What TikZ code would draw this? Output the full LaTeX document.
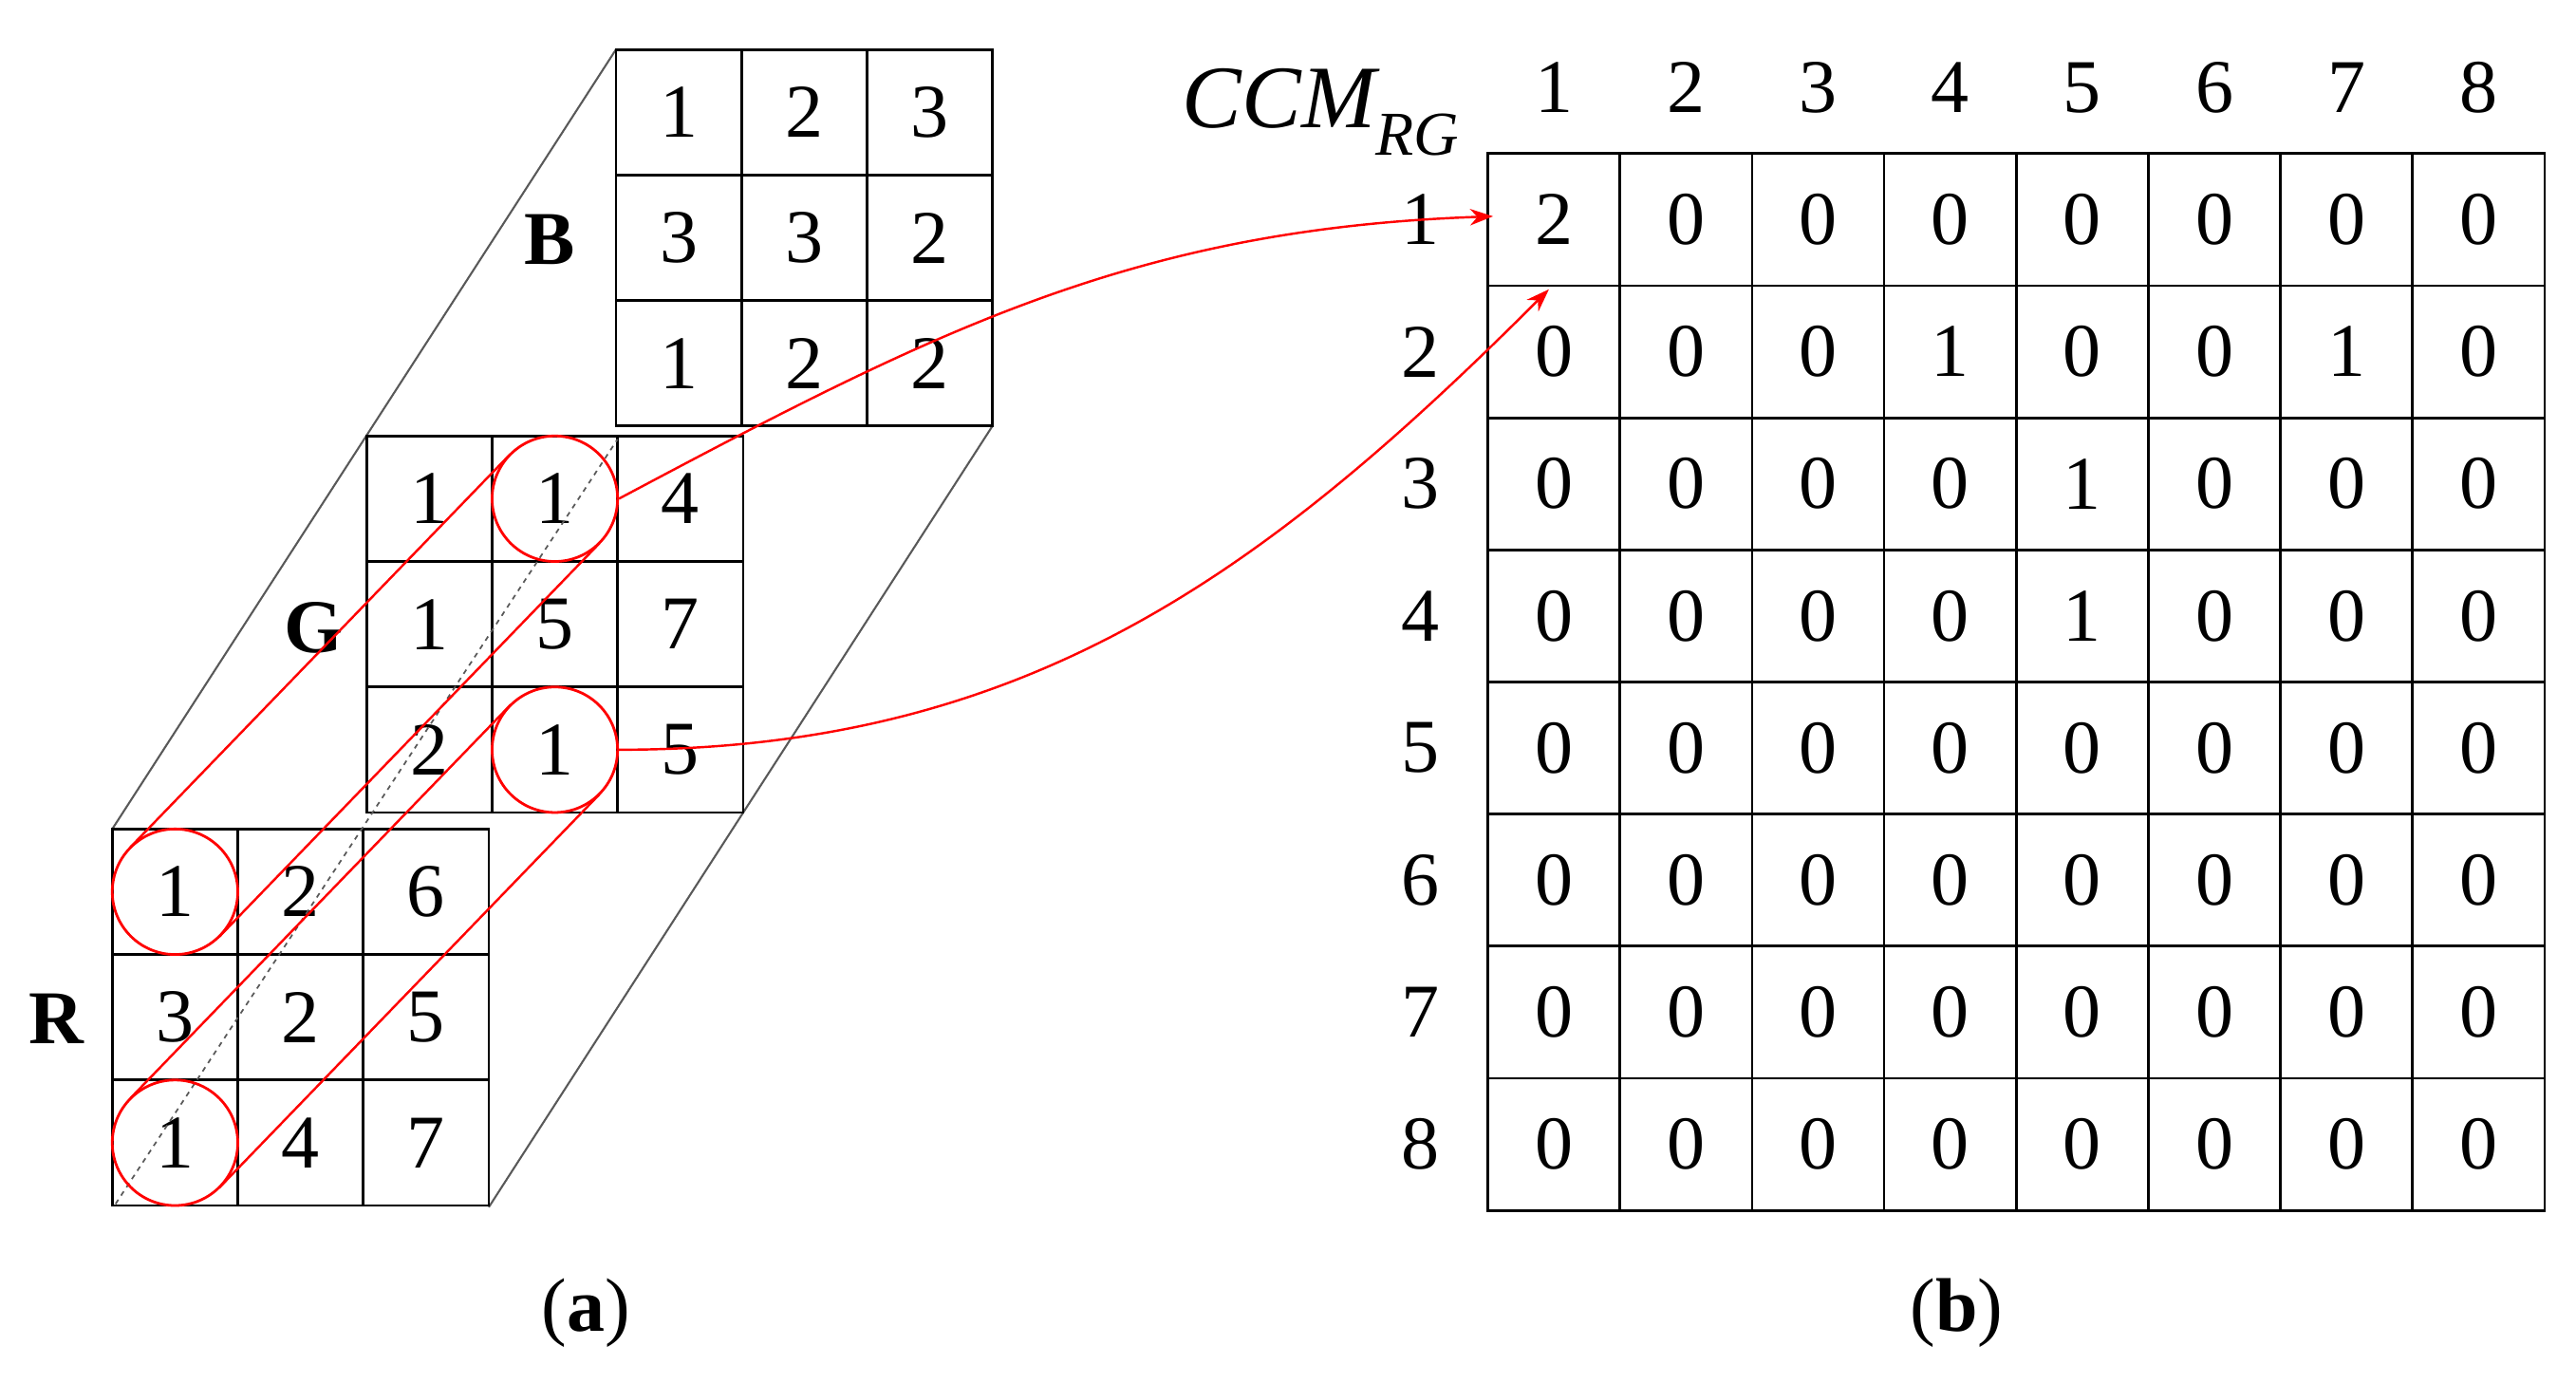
\documentclass[tikz,border=0pt]{standalone}
\usepackage{fontspec}
\setmainfont{Liberation Serif}
\usetikzlibrary{arrows.meta,calc}
\begin{document}
\begin{tikzpicture}[x=1pt,y=-1pt,
  cell/.style={draw,line width=1.6pt,minimum size=76pt,inner sep=0pt,font=\fontsize{46}{50}\selectfont},
  ccell/.style={draw,line width=1.6pt,minimum size=80pt,inner sep=0pt,font=\fontsize{46}{50}\selectfont},
  lab/.style={font=\fontsize{46}{50}\selectfont},
  blab/.style={font=\fontsize{46}{50}\selectfont\bfseries},
  rc/.style={draw=red,line width=1.6pt,circle,minimum size=76pt,inner sep=0pt},
  rl/.style={red,line width=1.4pt},
  gl/.style={gray!70!black,line width=1.2pt}]
\useasboundingbox (0,0) rectangle (1560,837);
% parallelogram edges
\coordinate (p1) at (68,502); \coordinate (p2) at (373,30);
\coordinate (p3) at (296,731); \coordinate (p4) at (601,258);
\draw[gl] (p1) -- (p2);
\draw[gl] (p3) -- (p4);
% grids
\def\grid#1#2#3#4{%
 \foreach \v [count=\k from 0] in {#4} {%
   \pgfmathtruncatemacro\r{int(\k/3)}\pgfmathtruncatemacro\c{mod(\k,3)}%
   \node[cell] (#1-\r-\c) at ({#2+38+76*\c},{#3+38+76*\r}) {\v};}}
\grid{B}{373}{30}{1,2,3,3,3,2,1,2,2}
\grid{G}{222}{264}{1,1,4,1,5,7,2,1,5}
\grid{R}{68}{502}{1,2,6,3,2,5,1,4,7}
\node[blab] (lB) at (333,145) {B};
\node[blab] (lG) at (190,380) {G};
\node[blab] (lR) at (34,617) {R};
% dashed diagonal
\coordinate (d1) at (70,729); \coordinate (d2) at (374,266);
\draw[gl,dashed,line width=1pt] (d1) -- (d2);
% circles
\node[rc] (c1) at (R-0-0) {};
\node[rc] (c2) at (R-2-0) {};
\node[rc] (c3) at (G-0-1) {};
\node[rc] (c4) at (G-2-1) {};
\draw[rl] ($(c1.center)+(-27,-27)$) -- ($(c3.center)+(-27,-27)$);
\draw[rl] ($(c1.center)+(27,27)$) -- ($(c3.center)+(27,27)$);
\draw[rl] ($(c2.center)+(-27,-27)$) -- ($(c4.center)+(-27,-27)$);
\draw[rl] ($(c2.center)+(27,27)$) -- ($(c4.center)+(27,27)$);
% CCM
\foreach \row [count=\i from 1] in {{2,0,0,0,0,0,0,0},{0,0,0,1,0,0,1,0},{0,0,0,0,1,0,0,0},{0,0,0,0,1,0,0,0},{0,0,0,0,0,0,0,0},{0,0,0,0,0,0,0,0},{0,0,0,0,0,0,0,0},{0,0,0,0,0,0,0,0}} {
  \foreach \v [count=\j from 1] in \row {
    \node[ccell] (m-\i-\j) at ({861+80*\j},{53+80*\i}) {\v};}
  \node[lab] (r\i) at (860,{53+80*\i}) {\i};
  \node[lab] (h\i) at ({861+80*\i},53) {\i};
}
\node[font=\fontsize{54}{60}\selectfont\itshape] (ccm) at (800,68) {CCM\textsubscript{RG}};
% arrows
\draw[rl,-{Stealth[length=14pt,width=10pt]}] (c3.east) to[out=28,in=182] ([xshift=4pt,yshift=2pt]m-1-1.west);
\draw[rl,-{Stealth[length=14pt,width=10pt]}] (c4.east) to[out=0,in=225] ([xshift=-3pt,yshift=-3pt]m-2-1.north);
% captions
\node[lab] (ca) at (355,795) {(\textbf{a})};
\node[lab] (cb) at (1185,795) {(\textbf{b})};
\end{tikzpicture}
\end{document}
